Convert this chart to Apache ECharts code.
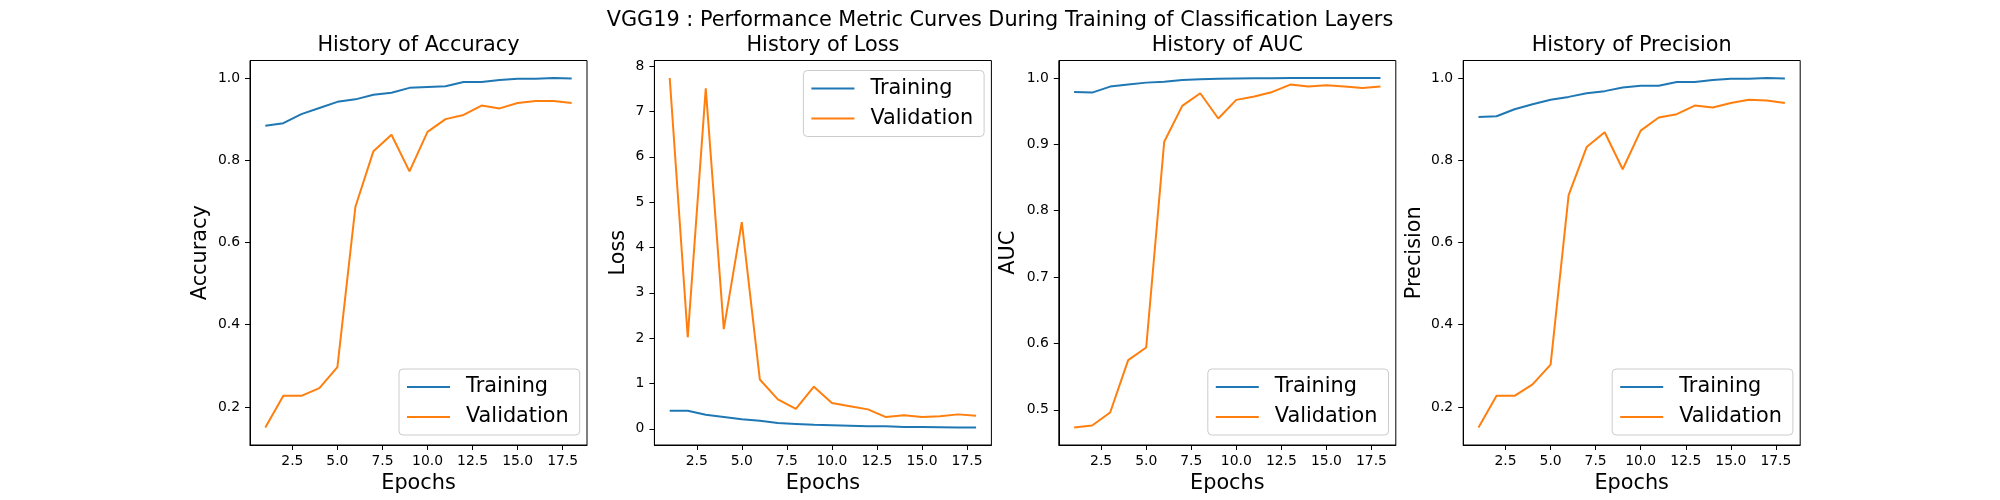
<!DOCTYPE html>
<html>
<head>
<meta charset="utf-8">
<script src="https://cdn.jsdelivr.net/npm/echarts@6/dist/echarts.min.js"></script>
<style>
html,body{margin:0;padding:0;background:#fff;}
#main{width:2000px;height:500px;}
</style>
</head>
<body>
<div id="main"></div>
<script>
// ---- data ----
const epochs = [1,2,3,4,5,6,7,8,9,10,11,12,13,14,15,16,17,18];
const accTrain = [0.884,0.890,0.912,0.927,0.942,0.948,0.959,0.964,0.976,0.978,0.980,0.990,0.990,0.995,0.998,0.998,1.000,0.999];
const accVal   = [0.150,0.227,0.227,0.246,0.297,0.687,0.822,0.862,0.773,0.869,0.900,0.910,0.933,0.926,0.939,0.944,0.944,0.939];
const lossTrain = [0.40,0.40,0.31,0.26,0.21,0.18,0.13,0.11,0.09,0.08,0.07,0.06,0.06,0.04,0.04,0.035,0.03,0.03];
const lossVal   = [7.74,2.02,7.51,2.20,4.56,1.09,0.65,0.44,0.93,0.57,0.50,0.43,0.26,0.30,0.26,0.28,0.32,0.29];
const aucTrain = [0.979,0.978,0.987,0.990,0.993,0.9944,0.997,0.998,0.999,0.9993,0.9995,0.9997,0.9998,0.9999,0.9999,1.0,1.0,1.0];
const aucVal   = [0.4734,0.4764,0.496,0.575,0.594,0.904,0.958,0.977,0.939,0.967,0.972,0.979,0.990,0.987,0.989,0.987,0.985,0.987];
const precTrain = [0.905,0.907,0.924,0.936,0.947,0.954,0.963,0.968,0.977,0.981,0.981,0.990,0.990,0.995,0.998,0.998,1.000,0.999];
const precVal   = [0.150,0.227,0.227,0.255,0.303,0.715,0.832,0.868,0.778,0.872,0.904,0.912,0.933,0.928,0.939,0.947,0.945,0.939];

const xTicks = [2.5,5.0,7.5,10.0,12.5,15.0,17.5];
const accTicks = [0.2,0.4,0.6,0.8,1.0];
const lossTicks = [0,1,2,3,4,5,6,7,8];
const aucTicks = [0.5,0.6,0.7,0.8,0.9,1.0];
const precTicks = [0.2,0.4,0.6,0.8,1.0];

const suptitle = 'VGG19 : Performance Metric Curves During Training of Classification Layers';
const panels = [
  {title:'History of Accuracy', ylabel:'Accuracy', train:accTrain, val:accVal, ticks:accTicks, dec:1, nameGap:39, legendPos:'bottom'},
  {title:'History of Loss', ylabel:'Loss', train:lossTrain, val:lossVal, ticks:lossTicks, dec:0, nameGap:25, legendPos:'top'},
  {title:'History of AUC', ylabel:'AUC', train:aucTrain, val:aucVal, ticks:aucTicks, dec:1, nameGap:40, legendPos:'bottom'},
  {title:'History of Precision', ylabel:'Precision', train:precTrain, val:precVal, ticks:precTicks, dec:1, nameGap:38, legendPos:'bottom'}
];

// ---- layout ----
const FONT = 'DejaVu Sans';
const axLeft0 = 250, axW = 337, axGap = 67.4, axTop = 60.5, axH = 384.5;
const C1 = '#1f77b4', C2 = '#ff7f0e';

function extent(arrs){
  let mn = Infinity, mx = -Infinity;
  arrs.forEach(a => a.forEach(v => { mn = Math.min(mn, v); mx = Math.max(mx, v); }));
  const m = (mx - mn) * 0.05;
  return [mn - m, mx + m];
}
const xExt = extent([epochs]);

const grids = [], xAxes = [], yAxes = [], series = [], titles = [], legends = [];
titles.push({text: suptitle, left: 1000, top: 10, textAlign: 'center', padding: 0,
  textStyle: {fontFamily: FONT, fontSize: 20.8, fontWeight: 'normal', color: '#000'}});

panels.forEach((p, i) => {
  const left = axLeft0 + i * (axW + axGap);
  grids.push({left: left, top: axTop, width: axW, height: axH, show: true,
    borderColor: '#000', borderWidth: 1, backgroundColor: 'transparent'});
  xAxes.push({type: 'value', gridIndex: i, min: xExt[0], max: xExt[1],
    name: 'Epochs', nameLocation: 'middle', nameGap: 26,
    nameTextStyle: {fontFamily: FONT, fontSize: 20.8, color: '#000'},
    axisLine: {show: true, onZero: false, lineStyle: {color: '#000', width: 1}},
    axisTick: {show: true, inside: false, length: 5, customValues: xTicks, lineStyle: {color: '#000'}},
    axisLabel: {customValues: xTicks, margin: 9, fontFamily: FONT, fontSize: 13.9, color: '#000',
      formatter: v => Number(v).toFixed(1)},
    splitLine: {show: false}});
  const yExt = extent([p.train, p.val]);
  yAxes.push({type: 'value', gridIndex: i, min: yExt[0], max: yExt[1],
    name: p.ylabel, nameLocation: 'middle', nameGap: p.nameGap,
    nameTextStyle: {fontFamily: FONT, fontSize: 20.8, color: '#000'},
    axisLine: {show: true, onZero: false, lineStyle: {color: '#000', width: 1}},
    axisTick: {show: true, inside: false, length: 5, customValues: p.ticks, lineStyle: {color: '#000'}},
    axisLabel: {customValues: p.ticks, margin: 10, fontFamily: FONT, fontSize: 13.9, color: '#000',
      formatter: v => Number(v).toFixed(p.dec)},
    splitLine: {show: false}});
  series.push({name: 'Training', type: 'line', xAxisIndex: i, yAxisIndex: i, showSymbol: false,
    data: epochs.map((e, k) => [e, p.train[k]]), lineStyle: {color: C1, width: 2}, itemStyle: {color: C1}, z: 2});
  series.push({name: 'Validation', type: 'line', xAxisIndex: i, yAxisIndex: i, showSymbol: false,
    data: epochs.map((e, k) => [e, p.val[k]]), lineStyle: {color: C2, width: 2}, itemStyle: {color: C2}, z: 3});
  titles.push({text: p.title, left: left + axW / 2, top: 35.3, textAlign: 'center', padding: 0,
    textStyle: {fontFamily: FONT, fontSize: 20.8, fontWeight: 'normal', color: '#000'}});
  const lgLeft = left + axW - 188;
  const lg = {data: ['Training', 'Validation'], orient: 'vertical', left: lgLeft,
    icon: 'rect', itemWidth: 43, itemHeight: 2, itemGap: 9,
    padding: [7.5, 11, 7.5, 8], backgroundColor: 'rgba(255,255,255,0.8)',
    borderColor: '#cccccc', borderWidth: 1, borderRadius: 4,
    selectedMode: false,
    textStyle: {fontFamily: FONT, fontSize: 20.8, color: '#000', padding: [0, 0, 0, 11]}};
  if (p.legendPos === 'top') lg.top = axTop + 10; else lg.top = axTop + axH - 10 - 66;
  legends.push(lg);
});

const chart = echarts.init(document.getElementById('main'), null, {renderer: 'canvas'});
chart.setOption({
  animation: false,
  backgroundColor: '#fff',
  title: titles,
  grid: grids,
  xAxis: xAxes,
  yAxis: yAxes,
  legend: legends,
  series: series
});
</script>
</body>
</html>
